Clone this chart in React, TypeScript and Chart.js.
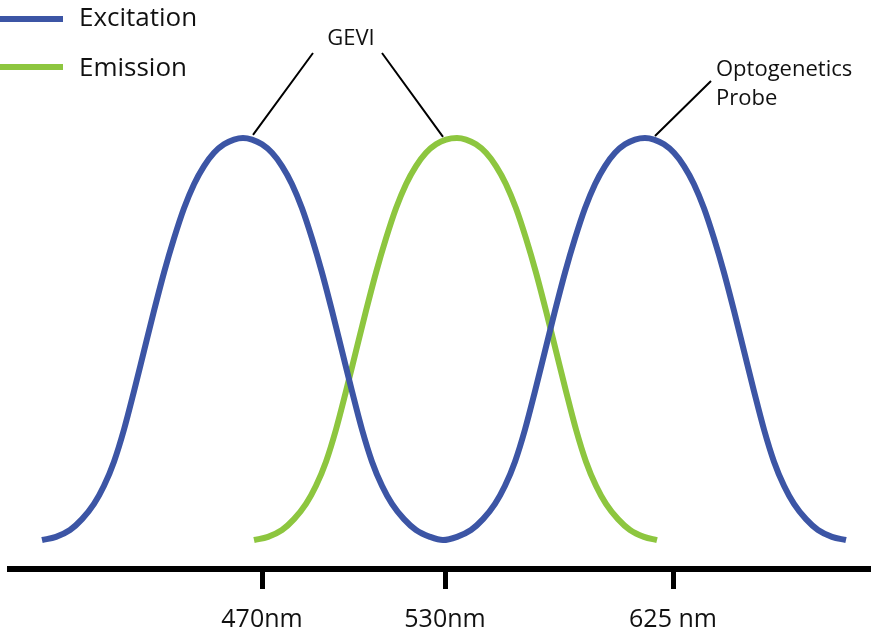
import React, { useEffect, useRef } from "react";
import { Chart, registerables } from "chart.js";

Chart.register(...registerables);

// Excitation (blue) curve: position along the axis, relative intensity
const excitationX = [
  32, 46, 60, 72, 84, 94, 104, 114, 124, 134, 144, 154, 164, 174, 184, 194, 204, 214, 224, 233,
  242, 252, 262, 272, 282, 292, 302, 312, 322, 332, 342, 352, 362, 372, 382, 394, 406, 420, 433,
  447, 461, 473, 485, 495, 505, 515, 525, 535, 545, 555, 565, 575, 585, 595, 605, 615, 625, 635,
  644, 654, 664, 674, 684, 694, 704, 714, 724, 734, 744, 754, 764, 774, 784, 796, 808, 822, 836,
];
const excitationY = [
  0, 0.008, 0.025, 0.052, 0.09, 0.135, 0.195, 0.275, 0.37, 0.47, 0.57, 0.665, 0.75, 0.825, 0.885, 0.93, 0.963, 0.984, 0.996, 1,
  0.996, 0.984, 0.963, 0.93, 0.885, 0.825, 0.75, 0.665, 0.57, 0.47, 0.37, 0.275, 0.195, 0.135, 0.09, 0.052, 0.025, 0.008, 0,
  0.008, 0.025, 0.052, 0.09, 0.135, 0.195, 0.275, 0.37, 0.47, 0.57, 0.665, 0.75, 0.825, 0.885, 0.93, 0.963, 0.984, 0.996, 1,
  0.996, 0.984, 0.963, 0.93, 0.885, 0.825, 0.75, 0.665, 0.57, 0.47, 0.37, 0.275, 0.195, 0.135, 0.09, 0.052, 0.025, 0.008, 0,
];

// Emission (green) curve
const emissionX = [
  244, 258, 272, 284, 296, 306, 316, 326, 336, 346, 356, 366, 376, 386, 396, 406, 416, 426, 436, 447,
  456, 466, 476, 486, 496, 506, 516, 526, 536, 546, 556, 566, 576, 586, 596, 608, 620, 634, 647,
];
const emissionY = [
  0, 0.008, 0.025, 0.052, 0.09, 0.135, 0.195, 0.275, 0.37, 0.47, 0.57, 0.665, 0.75, 0.825, 0.885, 0.93, 0.963, 0.984, 0.996, 1,
  0.996, 0.984, 0.963, 0.93, 0.885, 0.825, 0.75, 0.665, 0.57, 0.47, 0.37, 0.275, 0.195, 0.135, 0.09, 0.052, 0.025, 0.008, 0,
];

// Axis ticks
const tickPositions = [252, 435, 663];
const tickLabels = ["470nm", "530nm", "625 nm"];

// Legend / annotation labels
const seriesNames = ["Excitation", "Emission"];
const peakGEVIExc = 233;
const peakGEVIEm = 447;
const peakOpto = 635;

const BLUE = "#3c55a5";
const GREEN = "#8dc63f";
const FONT = "'Open Sans', 'DejaVu Sans', sans-serif";

const decorPlugin = {
  id: "decor",
  afterDraw(chart: any) {
    const ctx = chart.ctx;
    const xs = chart.scales.x;
    const ys = chart.scales.y;
    ctx.save();
    // legend
    const legendRows = [
      { lineY: 19, textY: 26 },
      { lineY: 67, textY: 76 },
    ];
    chart.data.datasets.forEach((ds: any, i: number) => {
      const r = legendRows[i];
      ctx.strokeStyle = ds.borderColor;
      ctx.lineWidth = 6;
      ctx.lineCap = "butt";
      ctx.beginPath();
      ctx.moveTo(0, r.lineY);
      ctx.lineTo(63, r.lineY);
      ctx.stroke();
      ctx.fillStyle = "#111";
      ctx.font = `26px ${FONT}`;
      ctx.textAlign = "left";
      ctx.textBaseline = "alphabetic";
      ctx.fillText(ds.label, 79, r.textY);
    });

    // annotations
    const p1x = xs.getPixelForValue(peakGEVIExc);
    const p2x = xs.getPixelForValue(peakGEVIEm);
    const p3x = xs.getPixelForValue(peakOpto);
    const py = ys.getPixelForValue(1);
    ctx.strokeStyle = "#000";
    ctx.lineWidth = 2;
    ctx.beginPath();
    ctx.moveTo(313, 53);
    ctx.lineTo(p1x + 10, py - 3);
    ctx.moveTo(382, 53);
    ctx.lineTo(p2x - 14, py - 1);
    ctx.moveTo(711, 81);
    ctx.lineTo(p3x + 10, py - 2);
    ctx.stroke();

    ctx.fillStyle = "#111";
    ctx.font = `22px ${FONT}`;
    ctx.textBaseline = "alphabetic";
    ctx.textAlign = "center";
    ctx.fillText("GEVI", 351, 45);
    ctx.textAlign = "left";
    ctx.fillText("Optogenetics", 716, 76);
    ctx.fillText("Probe", 716, 105);
    ctx.restore();
  },
};

export default function App() {
  const canvasRef = useRef<HTMLCanvasElement | null>(null);

  useEffect(() => {
    document.body.style.margin = "0";
    const canvas = canvasRef.current;
    if (!canvas) return;
    const chart = new Chart(canvas, {
      type: "line",
      data: {
        datasets: [
          {
            label: seriesNames[0],
            data: excitationX.map((x, i) => ({ x, y: excitationY[i] })),
            borderColor: BLUE,
            borderWidth: 6,
            pointRadius: 0,
            fill: false,
            cubicInterpolationMode: "monotone",
          },
          {
            label: seriesNames[1],
            data: emissionX.map((x, i) => ({ x, y: emissionY[i] })),
            borderColor: GREEN,
            borderWidth: 6,
            pointRadius: 0,
            fill: false,
            cubicInterpolationMode: "monotone",
          },
        ],
      },
      options: {
        animation: false,
        responsive: true,
        maintainAspectRatio: false,
        layout: { padding: { left: 10, right: 25, top: 0, bottom: 0 } },
        plugins: {
          legend: { display: false },
          tooltip: { enabled: false },
        },
        scales: {
          x: {
            type: "linear",
            min: 0,
            max: 860,
            afterBuildTicks: (scale: any) => {
              scale.ticks = tickPositions.map((v) => ({ value: v }));
            },
            afterFit: (scale: any) => {
              scale.height = 67;
            },
            grid: {
              display: true,
              drawOnChartArea: false,
              drawTicks: true,
              tickLength: 20,
              tickWidth: 5,
              tickColor: "#000",
            },
            border: { display: true, color: "#000", width: 6 },
            ticks: {
              autoSkip: false,
              maxRotation: 0,
              padding: 16,
              color: "#111",
              font: { family: FONT, size: 25 },
              callback: (_v: any, i: number) => tickLabels[i],
            },
          },
          y: {
            type: "linear",
            display: false,
            min: -0.072,
            max: 1.343,
          },
        },
      },
      plugins: [decorPlugin],
    });
    return () => chart.destroy();
  }, []);

  return (
    <div style={{ width: 895, height: 636, position: "relative", background: "#fff" }}>
      <canvas ref={canvasRef} />
    </div>
  );
}
